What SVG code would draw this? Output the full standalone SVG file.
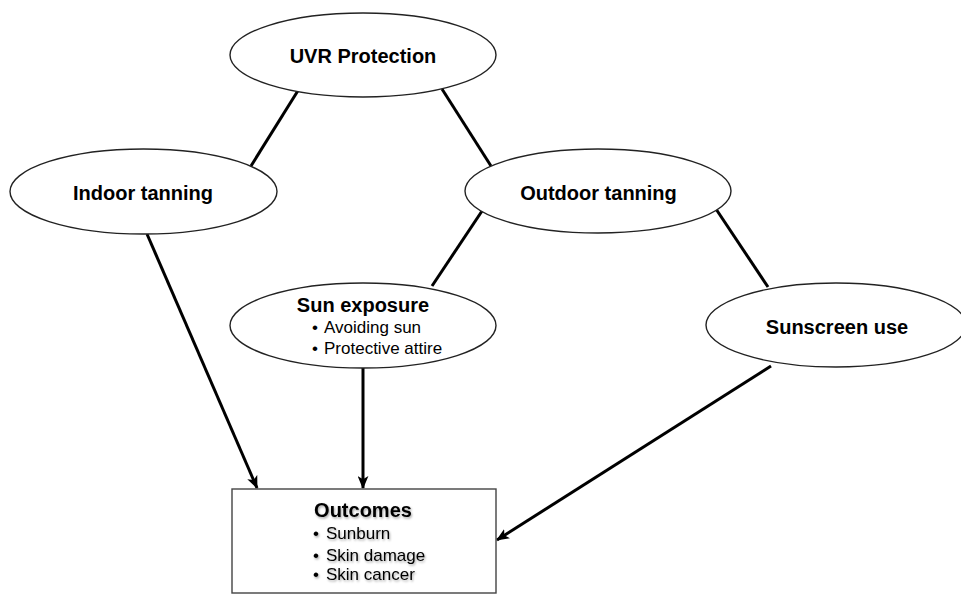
<svg xmlns="http://www.w3.org/2000/svg" width="961" height="594" viewBox="0 0 961 594">
<defs>
<marker id="arr" viewBox="0 0 12 10" refX="11" refY="5" markerWidth="13" markerHeight="11" markerUnits="userSpaceOnUse" orient="auto">
<path d="M0,0 L12,5 L0,10 L3,5 z" fill="#000"/>
</marker>
<filter id="sh" x="-10%" y="-30%" width="130%" height="170%">
<feDropShadow dx="1" dy="1.5" stdDeviation="1" flood-color="#000" flood-opacity="0.35"/>
</filter>
</defs>
<style>
.node{fill:#fff;stroke:#222;stroke-width:1.4}
.box{fill:#fff;stroke:#444;stroke-width:1.4}
.t{font-family:"Liberation Sans",Arial,sans-serif;font-weight:bold;font-size:20px;fill:#000;text-anchor:middle}
.b{font-family:"Liberation Sans",Arial,sans-serif;font-size:17px;fill:#000}
.e{stroke:#000;stroke-width:3;fill:none}
.a{stroke:#000;stroke-width:3;fill:none;marker-end:url(#arr)}
</style>
<rect width="961" height="594" fill="#fff"/>
<g id="connectors">
<line class="e" x1="299" y1="89" x2="251" y2="166"/>
<line class="e" x1="442" y1="89" x2="491" y2="166"/>
<line class="e" x1="482" y1="211" x2="432" y2="286"/>
<line class="e" x1="716" y1="209" x2="768" y2="287"/>
<line class="a" x1="147" y1="234" x2="257" y2="488"/>
<line class="a" x1="363" y1="368" x2="363" y2="488"/>
<line class="a" x1="771" y1="366" x2="497" y2="540"/>
</g>
<g id="uvr">
<ellipse class="node" cx="363" cy="55" rx="133" ry="42"/>
<text class="t" x="363" y="63">UVR Protection</text>
</g>
<g id="indoor">
<ellipse class="node" cx="143.5" cy="191.5" rx="133.5" ry="42.5"/>
<text class="t" x="143" y="200">Indoor tanning</text>
</g>
<g id="outdoor">
<ellipse class="node" cx="598" cy="191" rx="133" ry="42"/>
<text class="t" x="598.5" y="200">Outdoor tanning</text>
</g>
<g id="sunexposure">
<ellipse class="node" cx="363" cy="325.5" rx="133" ry="42.5"/>
<text class="t" x="363" y="312">Sun exposure</text>
<text class="b" x="312" y="333">•</text>
<text class="b" x="324" y="333">Avoiding sun</text>
<text class="b" x="312" y="354">•</text>
<text class="b" x="324" y="354">Protective attire</text>
</g>
<g id="sunscreen">
<ellipse class="node" cx="836" cy="325" rx="130" ry="42"/>
<text class="t" x="837" y="334">Sunscreen use</text>
</g>
<g id="outcomes">
<rect class="box" x="232" y="489" width="264" height="104"/>
<g filter="url(#sh)">
<text class="t" x="363" y="517">Outcomes</text>
<text class="b" x="313" y="539">•</text>
<text class="b" x="326" y="539">Sunburn</text>
<text class="b" x="313" y="561">•</text>
<text class="b" x="326" y="561">Skin damage</text>
<text class="b" x="313" y="580">•</text>
<text class="b" x="326" y="580">Skin cancer</text>
</g>
</g>
</svg>
